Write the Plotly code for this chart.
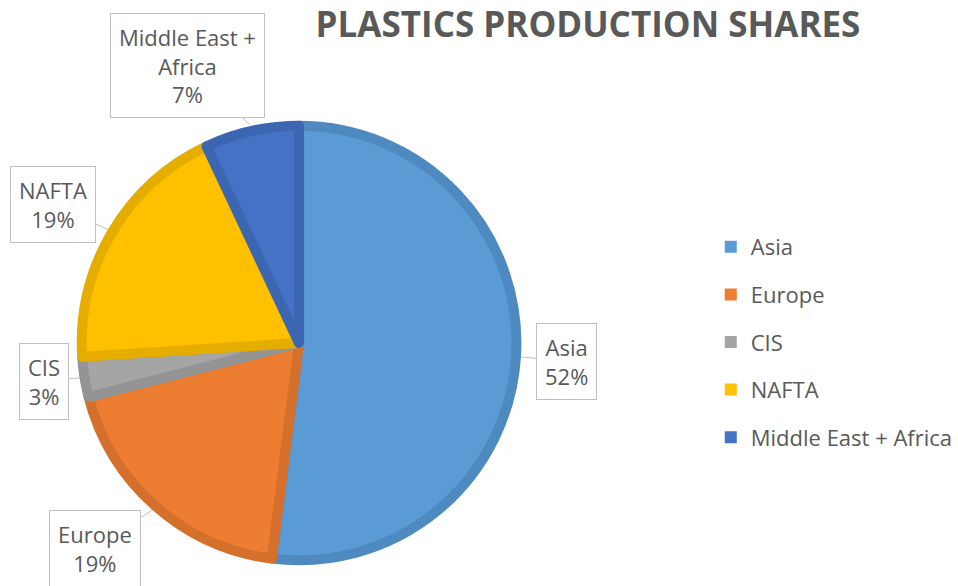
import math
import plotly.graph_objects as go

# Share of global plastics production by region (%)
regions = ["Asia", "Europe", "CIS", "NAFTA", "Middle East + Africa"]
shares = [52, 19, 3, 19, 7]
fill_colors = ["#5B9BD5", "#ED7D31", "#A5A5A5", "#FFC000", "#4472C4"]
edge_colors = ["#4E89C0", "#D5702C", "#949494", "#E5AD00", "#3C66B2"]
label_text = ["Asia", "Europe", "CIS", "NAFTA", "Middle East +<br>Africa"]

W, H = 958, 586
CX, CY, R = 300, 343, 223          # pie centre and outer radius (px)
EDGE = 10                           # slice outline width (px)
TEXT = "#595959"
FONT = "Open Sans"

# callout box centres (px) for each region's data label
box_centres = [(568, 361), (95, 548), (44, 381), (53, 204), (188, 66)]

r_in = R - EDGE / 2
fig = go.Figure()
fig.add_trace(go.Pie(
    labels=regions,
    values=shares,
    sort=False,
    direction="clockwise",
    rotation=0,
    marker=dict(colors=fill_colors, line=dict(color=edge_colors, width=EDGE)),
    textinfo="none",
    hoverinfo="label+percent",
    showlegend=False,
    domain=dict(x=[(CX - r_in) / W, (CX + r_in) / W],
                y=[1 - (CY + r_in) / H, 1 - (CY - r_in) / H]),
))

# legend entries: one square swatch per region, each in its own group for spacing
for name, col in zip(regions, fill_colors):
    fig.add_trace(go.Scatter(
        x=[None], y=[None], mode="markers", name=name,
        marker=dict(symbol="square", size=12, color=col),
        legendgroup=name, showlegend=True, hoverinfo="skip",
    ))

# data labels in callout boxes, pointing at the middle of each slice's arc
total = sum(shares)
cum = 0.0
annotations = []
for i, (txt, v) in enumerate(zip(label_text, shares)):
    mid = (cum + v / 2) / total
    cum += v
    theta = 2 * math.pi * mid
    px = CX + R * math.sin(theta)
    py = CY - R * math.cos(theta)
    bx, by = box_centres[i]
    pct = round(100 * v / total)
    annotations.append(dict(
        x=px / W, y=1 - py / H, xref="paper", yref="paper",
        ax=bx - px, ay=by - py, axref="pixel", ayref="pixel",
        text=f"{txt}<br>{pct}%",
        showarrow=True, arrowhead=0, arrowwidth=1, arrowcolor="#BFBFBF",
        standoff=0, startstandoff=0,
        bordercolor="#BFBFBF", borderwidth=1, borderpad=8,
        bgcolor="#FFFFFF", align="center",
        font=dict(family=FONT, size=22, color=TEXT),
    ))

fig.update_layout(
    width=W, height=H,
    margin=dict(l=0, r=0, t=0, b=0),
    paper_bgcolor="#FFFFFF", plot_bgcolor="#FFFFFF",
    title=dict(text="PLASTICS PRODUCTION SHARES", x=588 / W, xanchor="center",
               y=1 - 25 / H, yanchor="middle",
               font=dict(family=FONT, size=35, color=TEXT, weight="bold")),
    xaxis=dict(visible=False), yaxis=dict(visible=False),
    legend=dict(x=713 / W, xanchor="left", y=1 - 226 / H, yanchor="top",
                font=dict(family=FONT, size=22, color=TEXT),
                tracegroupgap=16, itemwidth=30, bgcolor="rgba(0,0,0,0)"),
    annotations=annotations,
    showlegend=True,
)

fig.write_html("out.html")
